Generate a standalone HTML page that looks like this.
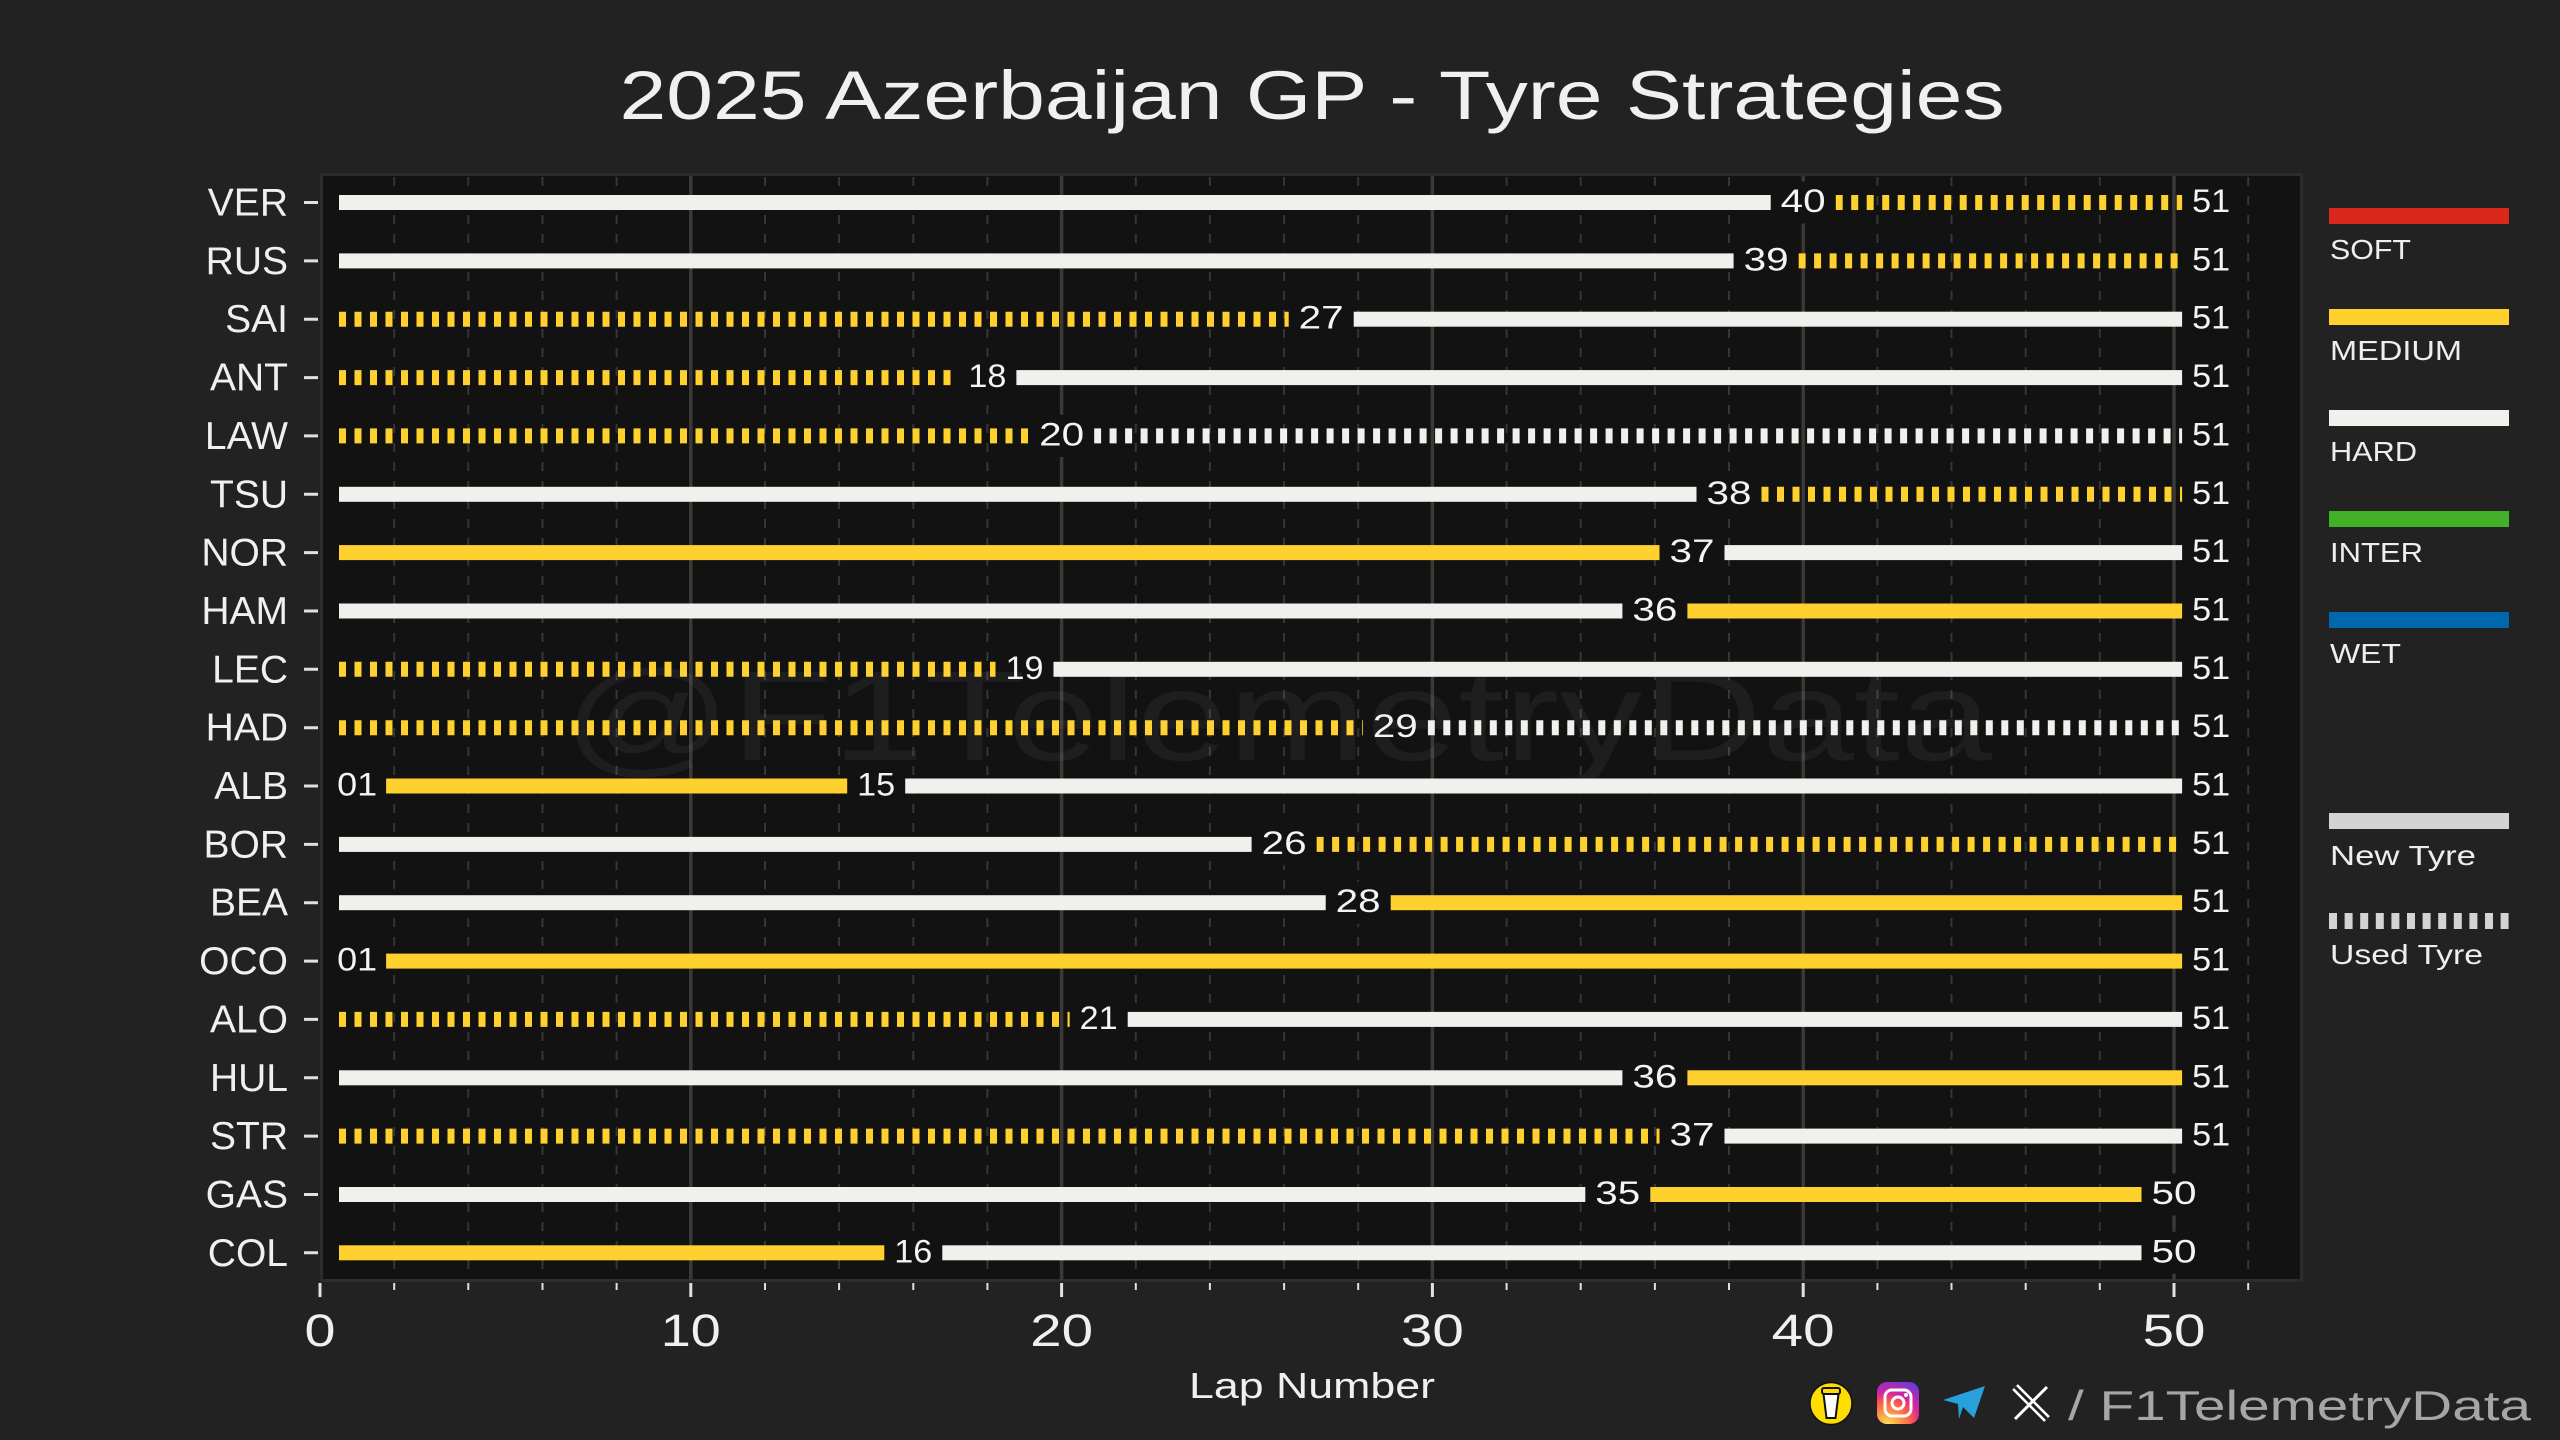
<!DOCTYPE html>
<html><head><meta charset="utf-8"><title>2025 Azerbaijan GP - Tyre Strategies</title>
<style>
html,body{margin:0;padding:0;background:#222222;}
svg{display:block;}
text{font-family:"Liberation Sans",sans-serif;}
</style></head>
<body>
<svg xmlns="http://www.w3.org/2000/svg" width="2560" height="1440" viewBox="0 0 2560 1440">
<defs>
<radialGradient id="ig" cx="25%" cy="105%" r="130%">
<stop offset="0" stop-color="#fdf497"/><stop offset="0.1" stop-color="#fdc94b"/>
<stop offset="0.45" stop-color="#fd5949"/><stop offset="0.62" stop-color="#d6249f"/>
<stop offset="0.9" stop-color="#6a3bd8"/></radialGradient>
</defs>
<rect x="0" y="0" width="2560" height="1440" fill="#222222"/>

<!-- title -->
<text x="1312" y="119" font-size="69" fill="#f0f0f0" text-anchor="middle" textLength="1385" lengthAdjust="spacingAndGlyphs">2025 Azerbaijan GP - Tyre Strategies</text>

<!-- plot area -->
<rect x="321.5" y="174.5" width="1980" height="1106" fill="#121212" stroke="#2e2c2b" stroke-width="3"/>

<!-- minor gridlines -->
<path d="M394.2 177V1279M468.3 177V1279M542.5 177V1279M616.6 177V1279M765 177V1279M839.1 177V1279M913.3 177V1279M987.4 177V1279M1135.8 177V1279M1209.9 177V1279M1284.1 177V1279M1358.2 177V1279M1506.6 177V1279M1580.7 177V1279M1654.9 177V1279M1729 177V1279M1877.4 177V1279M1951.5 177V1279M2025.7 177V1279M2099.8 177V1279M2248.2 177V1279" stroke="#363636" stroke-width="2" stroke-dasharray="9 10" fill="none"/>
<!-- major gridlines -->
<path d="M690.8 176V1280M1061.6 176V1280M1432.4 176V1280M1803.2 176V1280M2174 176V1280" stroke="#3c3836" stroke-width="3.5" fill="none"/>

<!-- x ticks -->
<path d="M320 1283V1297M690.8 1283V1297M1061.6 1283V1297M1432.4 1283V1297M1803.2 1283V1297M2174 1283V1297" stroke="#e0e0e0" stroke-width="3" fill="none"/>
<path d="M394.2 1283V1290M468.3 1283V1290M542.5 1283V1290M616.6 1283V1290M765 1283V1290M839.1 1283V1290M913.3 1283V1290M987.4 1283V1290M1135.8 1283V1290M1209.9 1283V1290M1284.1 1283V1290M1358.2 1283V1290M1506.6 1283V1290M1580.7 1283V1290M1654.9 1283V1290M1729 1283V1290M1877.4 1283V1290M1951.5 1283V1290M2025.7 1283V1290M2099.8 1283V1290M2248.2 1283V1290" stroke="#e0e0e0" stroke-width="2" fill="none"/>
<g font-size="45" fill="#f0f0f0" text-anchor="middle">
<text x="320" y="1346" textLength="31" lengthAdjust="spacingAndGlyphs">0</text>
<text x="690.8" y="1346" textLength="60" lengthAdjust="spacingAndGlyphs">10</text>
<text x="1061.6" y="1346" textLength="63" lengthAdjust="spacingAndGlyphs">20</text>
<text x="1432.4" y="1346" textLength="63" lengthAdjust="spacingAndGlyphs">30</text>
<text x="1803.2" y="1346" textLength="63" lengthAdjust="spacingAndGlyphs">40</text>
<text x="2174" y="1346" textLength="63" lengthAdjust="spacingAndGlyphs">50</text>
</g>
<text x="1312" y="1398" font-size="36" fill="#f0f0f0" text-anchor="middle" textLength="246" lengthAdjust="spacingAndGlyphs">Lap Number</text>

<!-- y ticks -->
<path d="M304 202.5H318M304 260.9H318M304 319.2H318M304 377.6H318M304 435.9H318M304 494.3H318M304 552.6H318M304 611H318M304 669.3H318M304 727.7H318M304 786H318M304 844.4H318M304 902.7H318M304 961.1H318M304 1019.4H318M304 1077.8H318M304 1136.1H318M304 1194.5H318M304 1252.8H318" stroke="#e0e0e0" stroke-width="3" fill="none"/>
<g font-size="39" fill="#f0f0f0" text-anchor="end">
<text x="288" y="215.5">VER</text>
<text x="288" y="273.9">RUS</text>
<text x="288" y="332.2">SAI</text>
<text x="288" y="390.6">ANT</text>
<text x="288" y="448.9">LAW</text>
<text x="288" y="507.3">TSU</text>
<text x="288" y="565.6">NOR</text>
<text x="288" y="624">HAM</text>
<text x="288" y="682.3">LEC</text>
<text x="288" y="740.7">HAD</text>
<text x="288" y="799">ALB</text>
<text x="288" y="857.4">BOR</text>
<text x="288" y="915.7">BEA</text>
<text x="288" y="974.1">OCO</text>
<text x="288" y="1032.4">ALO</text>
<text x="288" y="1090.8">HUL</text>
<text x="288" y="1149.1">STR</text>
<text x="288" y="1207.5">GAS</text>
<text x="288" y="1265.8">COL</text>
</g>

<!-- solid (new tyre) bars -->
<g>
<rect x="339" y="195" width="1464.2" height="15" fill="#f0f0ec"/>
<rect x="339" y="253.4" width="1427.1" height="15" fill="#f0f0ec"/>
<rect x="1321.2" y="311.7" width="889.9" height="15" fill="#f0f0ec"/>
<rect x="987.4" y="370.1" width="1223.7" height="15" fill="#f0f0ec"/>
<rect x="339" y="486.8" width="1390" height="15" fill="#f0f0ec"/>
<rect x="339" y="545.1" width="1353" height="15" fill="#ffd12e"/>
<rect x="1692" y="545.1" width="519.1" height="15" fill="#f0f0ec"/>
<rect x="339" y="603.5" width="1315.9" height="15" fill="#f0f0ec"/>
<rect x="1654.9" y="603.5" width="556.2" height="15" fill="#ffd12e"/>
<rect x="1024.5" y="661.8" width="1186.6" height="15" fill="#f0f0ec"/>
<rect x="357.1" y="778.5" width="519.1" height="15" fill="#ffd12e"/>
<rect x="876.2" y="778.5" width="1334.9" height="15" fill="#f0f0ec"/>
<rect x="339" y="836.9" width="945.1" height="15" fill="#f0f0ec"/>
<rect x="339" y="895.2" width="1019.2" height="15" fill="#f0f0ec"/>
<rect x="1358.2" y="895.2" width="852.9" height="15" fill="#ffd12e"/>
<rect x="357.1" y="953.6" width="1854" height="15" fill="#ffd12e"/>
<rect x="1098.7" y="1011.9" width="1112.4" height="15" fill="#f0f0ec"/>
<rect x="339" y="1070.3" width="1315.9" height="15" fill="#f0f0ec"/>
<rect x="1654.9" y="1070.3" width="556.2" height="15" fill="#ffd12e"/>
<rect x="1692" y="1128.6" width="519.1" height="15" fill="#f0f0ec"/>
<rect x="339" y="1187" width="1278.8" height="15" fill="#f0f0ec"/>
<rect x="1617.8" y="1187" width="556.2" height="15" fill="#ffd12e"/>
<rect x="339" y="1245.3" width="574.3" height="15" fill="#ffd12e"/>
<rect x="913.3" y="1245.3" width="1260.7" height="15" fill="#f0f0ec"/>
</g>

<!-- dashed (used tyre) bars -->
<g stroke-width="15" stroke-dasharray="7 8.5" fill="none">
<path d="M1835.7 202.5H2211" stroke="#ffd12e"/>
<path d="M1798.6 260.9H2211" stroke="#ffd12e"/>
<path d="M339 319.2H1321" stroke="#ffd12e"/>
<path d="M339 377.6H987" stroke="#ffd12e"/>
<path d="M339 435.9H1061" stroke="#ffd12e"/>
<path d="M1094.1 435.9H2211" stroke="#f0f0ec"/>
<path d="M1761.5 494.3H2211" stroke="#ffd12e"/>
<path d="M339 669.3H1024" stroke="#ffd12e"/>
<path d="M339 727.7H1395" stroke="#ffd12e"/>
<path d="M1427.8 727.7H2211" stroke="#f0f0ec"/>
<path d="M1316.6 844.4H2211" stroke="#ffd12e"/>
<path d="M339 1019.4H1098" stroke="#ffd12e"/>
<path d="M339 1136.1H1692" stroke="#ffd12e"/>
</g>

<!-- label boxes -->
<g fill="#121212">
<rect x="1770.7" y="181.5" width="65" height="42" rx="8"/>
<rect x="2182.1" y="181.5" width="58" height="42" rx="8"/>
<rect x="1733.6" y="239.9" width="65" height="42" rx="8"/>
<rect x="2182.1" y="239.9" width="58" height="42" rx="8"/>
<rect x="1288.7" y="298.2" width="65" height="42" rx="8"/>
<rect x="2182.1" y="298.2" width="58" height="42" rx="8"/>
<rect x="958.4" y="356.6" width="58" height="42" rx="8"/>
<rect x="2182.1" y="356.6" width="58" height="42" rx="8"/>
<rect x="1029.1" y="414.9" width="65" height="42" rx="8"/>
<rect x="2182.1" y="414.9" width="58" height="42" rx="8"/>
<rect x="1696.5" y="473.3" width="65" height="42" rx="8"/>
<rect x="2182.1" y="473.3" width="58" height="42" rx="8"/>
<rect x="1659.5" y="531.6" width="65" height="42" rx="8"/>
<rect x="2182.1" y="531.6" width="58" height="42" rx="8"/>
<rect x="1622.4" y="590" width="65" height="42" rx="8"/>
<rect x="2182.1" y="590" width="58" height="42" rx="8"/>
<rect x="995.5" y="648.3" width="58" height="42" rx="8"/>
<rect x="2182.1" y="648.3" width="58" height="42" rx="8"/>
<rect x="1362.8" y="706.7" width="65" height="42" rx="8"/>
<rect x="2182.1" y="706.7" width="58" height="42" rx="8"/>
<rect x="328.1" y="765" width="58" height="42" rx="8"/>
<rect x="847.2" y="765" width="58" height="42" rx="8"/>
<rect x="2182.1" y="765" width="58" height="42" rx="8"/>
<rect x="1251.6" y="823.4" width="65" height="42" rx="8"/>
<rect x="2182.1" y="823.4" width="58" height="42" rx="8"/>
<rect x="1325.7" y="881.7" width="65" height="42" rx="8"/>
<rect x="2182.1" y="881.7" width="58" height="42" rx="8"/>
<rect x="328.1" y="940.1" width="58" height="42" rx="8"/>
<rect x="2182.1" y="940.1" width="58" height="42" rx="8"/>
<rect x="1069.7" y="998.4" width="58" height="42" rx="8"/>
<rect x="2182.1" y="998.4" width="58" height="42" rx="8"/>
<rect x="1622.4" y="1056.8" width="65" height="42" rx="8"/>
<rect x="2182.1" y="1056.8" width="58" height="42" rx="8"/>
<rect x="1659.5" y="1115.1" width="65" height="42" rx="8"/>
<rect x="2182.1" y="1115.1" width="58" height="42" rx="8"/>
<rect x="1585.3" y="1173.5" width="65" height="42" rx="8"/>
<rect x="2141.5" y="1173.5" width="65" height="42" rx="8"/>
<rect x="884.3" y="1231.8" width="58" height="42" rx="8"/>
<rect x="2141.5" y="1231.8" width="65" height="42" rx="8"/>
</g>

<!-- watermark -->
<text x="563" y="760" font-size="128" fill="#ffffff" fill-opacity="0.05" textLength="1429" lengthAdjust="spacingAndGlyphs">@F1TelemetryData</text>

<!-- stint labels -->
<g font-size="32" fill="#f4f4f4" text-anchor="middle">
<text x="1803.2" y="212" textLength="45" lengthAdjust="spacingAndGlyphs">40</text>
<text x="2211.1" y="212" textLength="38" lengthAdjust="spacingAndGlyphs">51</text>
<text x="1766.1" y="270.4" textLength="45" lengthAdjust="spacingAndGlyphs">39</text>
<text x="2211.1" y="270.4" textLength="38" lengthAdjust="spacingAndGlyphs">51</text>
<text x="1321.2" y="328.7" textLength="45" lengthAdjust="spacingAndGlyphs">27</text>
<text x="2211.1" y="328.7" textLength="38" lengthAdjust="spacingAndGlyphs">51</text>
<text x="987.4" y="387.1" textLength="38" lengthAdjust="spacingAndGlyphs">18</text>
<text x="2211.1" y="387.1" textLength="38" lengthAdjust="spacingAndGlyphs">51</text>
<text x="1061.6" y="445.4" textLength="45" lengthAdjust="spacingAndGlyphs">20</text>
<text x="2211.1" y="445.4" textLength="38" lengthAdjust="spacingAndGlyphs">51</text>
<text x="1729" y="503.8" textLength="45" lengthAdjust="spacingAndGlyphs">38</text>
<text x="2211.1" y="503.8" textLength="38" lengthAdjust="spacingAndGlyphs">51</text>
<text x="1692" y="562.1" textLength="45" lengthAdjust="spacingAndGlyphs">37</text>
<text x="2211.1" y="562.1" textLength="38" lengthAdjust="spacingAndGlyphs">51</text>
<text x="1654.9" y="620.5" textLength="45" lengthAdjust="spacingAndGlyphs">36</text>
<text x="2211.1" y="620.5" textLength="38" lengthAdjust="spacingAndGlyphs">51</text>
<text x="1024.5" y="678.8" textLength="38" lengthAdjust="spacingAndGlyphs">19</text>
<text x="2211.1" y="678.8" textLength="38" lengthAdjust="spacingAndGlyphs">51</text>
<text x="1395.3" y="737.2" textLength="45" lengthAdjust="spacingAndGlyphs">29</text>
<text x="2211.1" y="737.2" textLength="38" lengthAdjust="spacingAndGlyphs">51</text>
<text x="357.1" y="795.5" textLength="40" lengthAdjust="spacingAndGlyphs">01</text>
<text x="876.2" y="795.5" textLength="38" lengthAdjust="spacingAndGlyphs">15</text>
<text x="2211.1" y="795.5" textLength="38" lengthAdjust="spacingAndGlyphs">51</text>
<text x="1284.1" y="853.9" textLength="45" lengthAdjust="spacingAndGlyphs">26</text>
<text x="2211.1" y="853.9" textLength="38" lengthAdjust="spacingAndGlyphs">51</text>
<text x="1358.2" y="912.2" textLength="45" lengthAdjust="spacingAndGlyphs">28</text>
<text x="2211.1" y="912.2" textLength="38" lengthAdjust="spacingAndGlyphs">51</text>
<text x="357.1" y="970.6" textLength="40" lengthAdjust="spacingAndGlyphs">01</text>
<text x="2211.1" y="970.6" textLength="38" lengthAdjust="spacingAndGlyphs">51</text>
<text x="1098.7" y="1028.9" textLength="38" lengthAdjust="spacingAndGlyphs">21</text>
<text x="2211.1" y="1028.9" textLength="38" lengthAdjust="spacingAndGlyphs">51</text>
<text x="1654.9" y="1087.3" textLength="45" lengthAdjust="spacingAndGlyphs">36</text>
<text x="2211.1" y="1087.3" textLength="38" lengthAdjust="spacingAndGlyphs">51</text>
<text x="1692" y="1145.6" textLength="45" lengthAdjust="spacingAndGlyphs">37</text>
<text x="2211.1" y="1145.6" textLength="38" lengthAdjust="spacingAndGlyphs">51</text>
<text x="1617.8" y="1204" textLength="45" lengthAdjust="spacingAndGlyphs">35</text>
<text x="2174" y="1204" textLength="45" lengthAdjust="spacingAndGlyphs">50</text>
<text x="913.3" y="1262.3" textLength="38" lengthAdjust="spacingAndGlyphs">16</text>
<text x="2174" y="1262.3" textLength="45" lengthAdjust="spacingAndGlyphs">50</text>
</g>

<!-- legend -->
<rect x="2329" y="208" width="180" height="16" fill="#da291c"/>
<rect x="2329" y="309" width="180" height="16" fill="#ffd12e"/>
<rect x="2329" y="410" width="180" height="16" fill="#f0f0ec"/>
<rect x="2329" y="511" width="180" height="16" fill="#43b02a"/>
<rect x="2329" y="612" width="180" height="16" fill="#0067ad"/>
<rect x="2329" y="813" width="180" height="16" fill="#d3d3d3"/>
<path d="M2329 921H2510" stroke="#d3d3d3" stroke-width="16" stroke-dasharray="8 7.6" fill="none"/>
<g font-size="28" fill="#eeeeee">
<text x="2330" y="259" textLength="81" lengthAdjust="spacingAndGlyphs">SOFT</text>
<text x="2330" y="360" textLength="132" lengthAdjust="spacingAndGlyphs">MEDIUM</text>
<text x="2330" y="461" textLength="87" lengthAdjust="spacingAndGlyphs">HARD</text>
<text x="2330" y="562" textLength="93" lengthAdjust="spacingAndGlyphs">INTER</text>
<text x="2330" y="663" textLength="71" lengthAdjust="spacingAndGlyphs">WET</text>
<text x="2330" y="865" textLength="146" lengthAdjust="spacingAndGlyphs">New Tyre</text>
<text x="2330" y="964" textLength="153" lengthAdjust="spacingAndGlyphs">Used Tyre</text>
</g>

<!-- footer icons -->
<circle cx="1831" cy="1403.5" r="21" fill="#ffdd00" stroke="#111" stroke-width="1.5"/>
<rect x="1822" y="1388" width="18" height="6" rx="2" fill="#ffdd00" stroke="#111" stroke-width="2"/>
<path d="M1823.5 1394H1838.5L1835.5 1418H1826.5Z" fill="#ffffff" stroke="#111" stroke-width="2"/>
<rect x="1877" y="1382" width="42" height="42" rx="10" fill="url(#ig)"/>
<rect x="1885" y="1390" width="26" height="26" rx="7" fill="none" stroke="#fff" stroke-width="3"/>
<circle cx="1898" cy="1403" r="6" fill="none" stroke="#fff" stroke-width="3"/>
<circle cx="1906" cy="1395" r="2" fill="#fff"/>
<path d="M1943 1400L1985 1386L1974 1418L1963 1407L1959 1419L1958 1404Z" fill="#27a0dc"/>
<path d="M2015 1387L2047 1419" stroke="#fff" stroke-width="8" fill="none"/>
<path d="M2015 1387L2047 1419" stroke="#222" stroke-width="3" fill="none"/>
<path d="M2047 1387L2015 1419" stroke="#fff" stroke-width="3" fill="none"/>
<text x="2068" y="1420" font-size="42" fill="#a6a6a6" textLength="463" lengthAdjust="spacingAndGlyphs">/ F1TelemetryData</text>
</svg>
</body></html>
